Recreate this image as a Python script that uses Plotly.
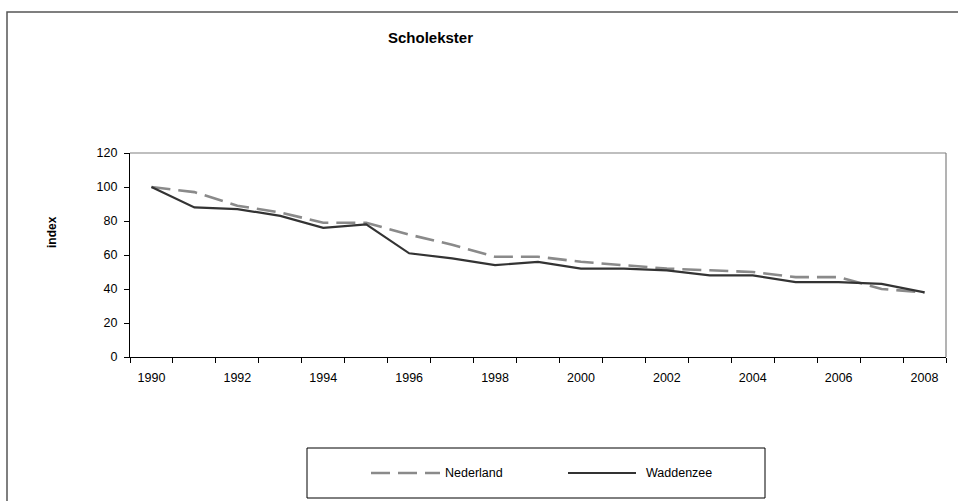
import plotly.graph_objects as go

years = list(range(1990, 2009))
nederland = [100, 97, 89, 85, 79, 79, 72, 66, 59, 59, 56, 54, 52, 51, 50, 47, 47, 40, 38]
waddenzee = [100, 88, 87, 83, 76, 78, 61, 58, 54, 56, 52, 52, 51, 48, 48, 44, 44, 43, 38]
x_ticks = list(range(1990, 2009, 2))
y_ticks = list(range(0, 121, 20))
title_text = "Scholekster"
y_title = "index"
series_names = ["Nederland", "Waddenzee"]

W, H = 958, 501
L, R, T, B = 130, 12, 153, 144
pw, ph = W - L - R, H - T - B

def px(xp):
    return (xp - L) / pw

def py(yp):
    return (H - B - yp) / ph

font = "Liberation Sans, Arial, sans-serif"
dash_style = "19px,8px"

fig = go.Figure()
fig.add_trace(go.Scatter(x=years, y=nederland, mode="lines", name=series_names[0],
                         line=dict(color="#8a8a8a", width=2.6, dash=dash_style),
                         showlegend=False))
fig.add_trace(go.Scatter(x=years, y=waddenzee, mode="lines", name=series_names[1],
                         line=dict(color="#333333", width=2.2),
                         showlegend=False))

shapes = []
# outer chart border
shapes.append(dict(type="rect", xref="paper", yref="paper",
                   x0=px(7), x1=px(975), y0=py(12), y1=py(520),
                   line=dict(color="#555555", width=1.5), layer="below"))
# plot area border (top/right gray)
shapes.append(dict(type="line", xref="paper", yref="paper", x0=0, x1=1, y0=1, y1=1,
                   line=dict(color="#808080", width=1.2)))
shapes.append(dict(type="line", xref="paper", yref="paper", x0=1, x1=1, y0=0, y1=1,
                   line=dict(color="#808080", width=1.2)))
# legend box
shapes.append(dict(type="rect", xref="paper", yref="paper",
                   x0=px(307), x1=px(765), y0=py(448), y1=py(498),
                   line=dict(color="#000000", width=1), fillcolor="white"))
shapes.append(dict(type="line", xref="paper", yref="paper",
                   x0=px(371), x1=px(440), y0=py(473), y1=py(473),
                   line=dict(color="#8a8a8a", width=2.6, dash=dash_style)))
shapes.append(dict(type="line", xref="paper", yref="paper",
                   x0=px(568), x1=px(636), y0=py(473), y1=py(473),
                   line=dict(color="#333333", width=2.2)))

annotations = [
    dict(text="<b>%s</b>" % title_text, xref="paper", yref="paper", x=px(430), y=py(37),
         showarrow=False, font=dict(family=font, size=15, color="#000"), xanchor="center", yanchor="middle"),
    dict(text="<b>%s</b>" % y_title, xref="paper", yref="paper", x=px(52), y=py(232),
         showarrow=False, textangle=-90, font=dict(family=font, size=12, color="#000"),
         xanchor="center", yanchor="middle"),
    dict(text=series_names[0], xref="paper", yref="paper", x=px(443), y=py(473),
         showarrow=False, font=dict(family=font, size=12.5, color="#000"), xanchor="left", yanchor="middle"),
    dict(text=series_names[1], xref="paper", yref="paper", x=px(644), y=py(473),
         showarrow=False, font=dict(family=font, size=12.5, color="#000"), xanchor="left", yanchor="middle"),
]

fig.update_layout(
    width=W, height=H,
    margin=dict(l=L, r=R, t=T, b=B, pad=0),
    paper_bgcolor="white", plot_bgcolor="white",
    font=dict(family=font, size=12.5, color="#000000"),
    shapes=shapes, annotations=annotations, showlegend=False,
    xaxis=dict(range=[1989.5, 2008.5], tickmode="array", tickvals=x_ticks,
               ticktext=[str(v) for v in x_ticks], ticks="", showgrid=False,
               showline=True, linecolor="#000", linewidth=1.2, zeroline=False,
               ticklabelstandoff=9,
               minor=dict(tickmode="array", tickvals=[y - 0.5 for y in years] + [2008.5],
                          ticks="outside", ticklen=5, tickcolor="#000", tickwidth=1, showgrid=False),
               tickfont=dict(family=font, size=12.5, color="#000000")),
    yaxis=dict(range=[0, 120], tickmode="array", tickvals=y_ticks, ticks="outside",
               ticklen=5, tickcolor="#000", showgrid=False, showline=True,
               linecolor="#000", linewidth=1.2, zeroline=False, ticklabelstandoff=4,
               tickfont=dict(family=font, size=12.5, color="#000000")),
)

fig.write_html("out.html", config={"displayModeBar": False},
               post_script="document.body.style.margin='0';document.body.style.overflow='hidden';")
